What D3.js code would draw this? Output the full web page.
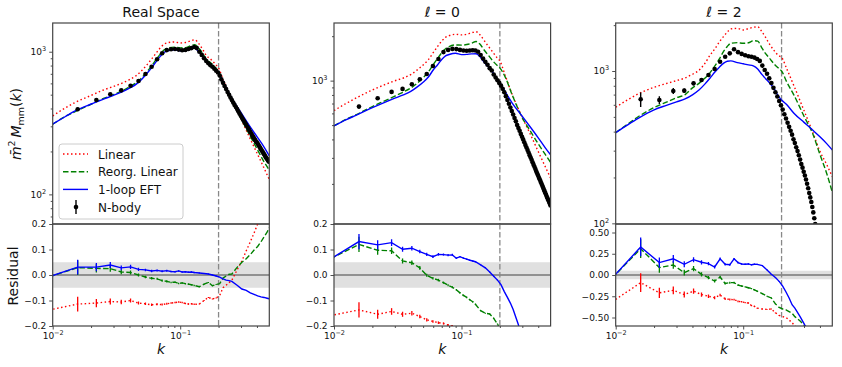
<!DOCTYPE html>
<html>
<head>
<meta charset="utf-8">
<script src="https://cdn.jsdelivr.net/npm/d3@7"></script>
<style>
  body { margin: 0; background: #fff; }
  svg { font-family: "DejaVu Sans", sans-serif; }
</style>
</head>
<body>
<svg id="chart" width="842" height="367"></svg>
<script>
// N-body k bins
var kBins = [0.0094, 0.0157, 0.0220, 0.0283, 0.0345, 0.0408, 0.0471, 0.0534, 0.0597, 0.0659,
  0.0722, 0.0785, 0.0848, 0.0911, 0.0973, 0.1036, 0.1099, 0.1162, 0.1225, 0.1287,
  0.1350, 0.1413, 0.1476, 0.1539, 0.1601, 0.1664, 0.1727, 0.1790, 0.1853, 0.1915,
  0.1978, 0.2041, 0.2104, 0.2167, 0.2229, 0.2292, 0.2355, 0.2418, 0.2481, 0.2543,
  0.2606, 0.2669, 0.2732, 0.2795, 0.2857, 0.2920, 0.2983, 0.3046, 0.3109, 0.3171,
  0.3234, 0.3297, 0.3360, 0.3423, 0.3485, 0.3548, 0.3611, 0.3674, 0.3737, 0.3799,
  0.3862, 0.3925, 0.3988, 0.4051, 0.4113, 0.4176, 0.4239, 0.4302, 0.4365, 0.4427,
  0.4490, 0.4553, 0.4616, 0.4679, 0.4741, 0.4804, 0.4867, 0.4930, 0.4993];

// k grid of the model curves
var modelK = [0.01, 0.0125, 0.015, 0.02, 0.025, 0.03, 0.035, 0.04, 0.045, 0.05,
  0.055, 0.06, 0.065, 0.07, 0.075, 0.08, 0.09, 0.1, 0.11, 0.12,
  0.13, 0.14, 0.15, 0.16, 0.175, 0.19, 0.2, 0.22, 0.25, 0.3,
  0.35, 0.4, 0.45, 0.5];

// k of the residual points
var resK = [0.0094, 0.0157, 0.0220, 0.0283, 0.0345, 0.0408, 0.0471, 0.0534, 0.0597, 0.0659,
  0.0722, 0.0785, 0.0848, 0.0911, 0.0973, 0.1036, 0.1099, 0.1162, 0.1225, 0.1287,
  0.1413, 0.1539, 0.1664, 0.1790, 0.1915, 0.2041, 0.2167, 0.2292, 0.2418, 0.2543,
  0.2795, 0.3046, 0.3297, 0.3548, 0.3799, 0.4051, 0.4302, 0.4553, 0.4804, 0.4993];

// ---- Real space ----
var realNbody = [305, 395, 459, 503, 536, 578, 623, 698, 785, 885,
  975, 1027, 1040, 1045, 1035, 1025, 1030, 1045, 1060, 1080,
  1060, 1000, 950, 900, 860, 830, 805, 785, 760, 735,
  715, 680, 640, 605, 575, 548, 522, 499, 477, 458,
  440, 424, 410, 396, 382, 369, 357, 346, 335, 325,
  316, 307, 298, 290, 282, 274, 267, 260, 253, 247,
  241, 236, 232, 227, 222, 217, 212, 207, 203, 199,
  195, 191, 187, 183, 180, 177, 174, 171, 169];
var realLinear = [355, 403, 441, 494, 539, 571, 602, 637, 678, 738, 812, 895, 983, 1067, 1132, 1157, 1170,
  1152, 1160, 1191, 1213, 1140, 1039, 943, 880, 813, 768, 618, 480, 338, 251, 195, 156, 127];
var realReorg = [310, 351, 380, 428, 470, 501, 532, 567, 604, 658, 725, 801, 886, 966, 1032, 1060, 1077,
  1065, 1069, 1097, 1122, 1059, 974, 887, 830, 769, 725, 596, 468, 340, 261, 209, 172, 148];
var realEft = [311, 350, 385, 430, 465, 495, 523, 555, 590, 642, 706, 777, 856, 931, 991, 1016, 1030,
  1015, 1020, 1045, 1065, 995, 930, 858, 797, 744, 707, 602, 482, 374, 302, 254, 218, 186];
var realResLinear = [-0.137, -0.114, -0.110, -0.104, -0.106, -0.100, -0.110, -0.113, -0.117, -0.115,
  -0.116, -0.113, -0.110, -0.108, -0.106, -0.108, -0.112, -0.114, -0.113, -0.115,
  -0.114, -0.100, -0.088, -0.094, -0.090, -0.080, -0.050, -0.040, -0.030, -0.020,
  0.020, 0.055, 0.095, 0.130, 0.165, 0.200, 0.230, 0.260, 0.290, 0.310];
var realResReorg = [-0.007, 0.029, 0.026, 0.025, 0.012, 0.010, 0.000, -0.008, -0.013, -0.015,
  -0.022, -0.025, -0.029, -0.028, -0.033, -0.031, -0.034, -0.036, -0.038, -0.041,
  -0.046, -0.036, -0.029, -0.042, -0.037, -0.034, -0.012, -0.004, 0.003, 0.004,
  0.030, 0.050, 0.064, 0.080, 0.098, 0.112, 0.130, 0.150, 0.168, 0.185];
var realResEft = [-0.007, 0.031, 0.031, 0.039, 0.028, 0.032, 0.022, 0.020, 0.016, 0.018,
  0.015, 0.017, 0.014, 0.013, 0.016, 0.012, 0.013, 0.011, 0.012, 0.010,
  0.008, 0.006, 0.004, 0.000, -0.004, -0.008, -0.015, -0.020, -0.022, -0.025,
  -0.040, -0.055, -0.060, -0.070, -0.076, -0.082, -0.086, -0.088, -0.091, -0.093];
var realErr = [0.035, 0.029, 0.016, 0.012, 0.009, 0.008, 0.006, 0.005, 0.005, 0.004,
  0.004, 0.004, 0.003, 0.003, 0.003, 0.003, 0.003, 0.003, 0.003, 0.003,
  0.002, 0.002, 0.002, 0.002, 0.002, 0.002, 0.002, 0.002, 0.002, 0.002,
  0.002, 0.002, 0.002, 0.002, 0.002, 0.002, 0.002, 0.002, 0.002, 0.002];

// ---- l = 0 ----
var monoNbody = [530, 667, 760, 839, 879, 945, 1022, 1110, 1257, 1400,
  1560, 1615, 1640, 1635, 1615, 1600, 1595, 1600, 1605, 1600,
  1570, 1490, 1410, 1340, 1280, 1215, 1170, 1100, 1050, 1005,
  965, 925, 880, 835, 785, 740, 698, 658, 622, 590,
  558, 530, 501, 478, 457, 436, 417, 400, 383, 367,
  353, 339, 326, 313, 302, 291, 280, 270, 261, 252,
  243, 235, 228, 220, 214, 207, 201, 195, 189, 183,
  178, 173, 168, 163, 159, 155, 151, 147, 143];
var monoLinear = [627, 702, 765, 865, 939, 998, 1042, 1100, 1182, 1277, 1387, 1546, 1704, 1852, 1964, 2015, 2060,
  2040, 2060, 2110, 2145, 2040, 1880, 1740, 1570, 1430, 1360, 1087, 806, 563, 426, 331, 266, 219];
var monoReorg = [494, 548, 589, 668, 730, 785, 837, 891, 961, 1047, 1146, 1282, 1413, 1546, 1646, 1700, 1745,
  1739, 1755, 1791, 1840, 1762, 1618, 1509, 1369, 1270, 1220, 1060, 800, 560, 450, 373, 320, 279];
var monoEft = [494, 545, 584, 656, 713, 761, 802, 845, 907, 976, 1058, 1180, 1282, 1390, 1470, 1503, 1533,
  1500, 1505, 1518, 1519, 1450, 1340, 1255, 1150, 1020, 970, 842, 705, 573, 480, 410, 355, 314];
var monoResLinear = [-0.159, -0.137, -0.154, -0.143, -0.154, -0.150, -0.163, -0.176, -0.182, -0.187,
  -0.190, -0.196, -0.200, -0.210, -0.215, -0.220, -0.225, -0.230, -0.235, -0.240,
  -0.250, -0.260, -0.270, -0.280, -0.300, -0.310, -0.300, -0.280, -0.260, -0.250,
  -0.250, -0.270, -0.290, -0.300, -0.310, -0.320, -0.330, -0.340, -0.350, -0.350];
var monoResReorg = [0.064, 0.120, 0.097, 0.095, 0.055, 0.048, 0.028, -0.001, -0.013, -0.020,
  -0.030, -0.040, -0.048, -0.058, -0.070, -0.080, -0.088, -0.097, -0.105, -0.115,
  -0.140, -0.150, -0.153, -0.170, -0.192, -0.220, -0.250, -0.280, -0.310, -0.330,
  -0.380, -0.420, -0.440, -0.460, -0.470, -0.480, -0.490, -0.490, -0.500, -0.500];
var monoResEft = [0.063, 0.131, 0.118, 0.127, 0.101, 0.105, 0.092, 0.081, 0.072, 0.081,
  0.080, 0.078, 0.079, 0.066, 0.072, 0.066, 0.062, 0.058, 0.055, 0.052,
  0.040, 0.028, 0.012, -0.005, -0.020, -0.038, -0.065, -0.088, -0.110, -0.135,
  -0.195, -0.270, -0.320, -0.370, -0.420, -0.460, -0.490, -0.510, -0.530, -0.550];
var monoErr = [0.035, 0.030, 0.018, 0.013, 0.010, 0.009, 0.007, 0.006, 0.005, 0.005,
  0.004, 0.004, 0.004, 0.003, 0.003, 0.003, 0.003, 0.003, 0.003, 0.003,
  0.002, 0.002, 0.002, 0.002, 0.002, 0.002, 0.002, 0.002, 0.002, 0.002,
  0.002, 0.002, 0.002, 0.002, 0.002, 0.002, 0.002, 0.002, 0.002, 0.002];

// ---- l = 2 ----
var quadNbody = [380, 652, 645, 739, 743, 830, 873, 941, 1031, 1151,
  1241, 1306, 1390, 1330, 1295, 1270, 1250, 1240, 1225, 1200,
  1165, 1085, 1015, 960, 895, 835, 775, 725, 680, 635,
  595, 558, 520, 488, 457, 430, 405, 382, 356, 337,
  316, 298, 280, 262, 245, 232, 218, 206, 194, 182,
  170, 158, 148, 138, 128, 118, 108, 99, 90];
var quadLinear = [578, 650, 707, 782, 828, 865, 900, 952, 1010, 1120, 1270, 1400, 1550, 1680, 1800, 1890, 1905,
  1860, 1900, 1935, 1950, 1812, 1660, 1510, 1360, 1260, 1230, 1030, 800, 550, 400, 297, 245, 202];
var quadReorg = [394, 450, 501, 575, 625, 668, 700, 775, 830, 895, 975, 1080, 1200, 1339, 1450, 1520, 1535,
  1520, 1532, 1580, 1570, 1420, 1300, 1220, 1110, 1040, 1000, 845, 695, 505, 390, 283, 215, 160];
var quadEft = [394, 445, 489, 556, 595, 627, 656, 698, 750, 820, 900, 985, 1060, 1123, 1160, 1165, 1135,
  1115, 1097, 1080, 1030, 950, 890, 840, 765, 678, 645, 600, 528, 460, 410, 370, 335, 303];
var quadResLinear = [-0.314, -0.090, -0.210, -0.180, -0.230, -0.190, -0.230, -0.250, -0.267, -0.236,
  -0.280, -0.287, -0.290, -0.310, -0.315, -0.325, -0.330, -0.360, -0.370, -0.390,
  -0.400, -0.405, -0.400, -0.445, -0.475, -0.490, -0.500, -0.530, -0.560, -0.600,
  -0.650, -0.700, -0.740, -0.780, -0.810, -0.840, -0.860, -0.880, -0.900, -0.910];
var quadResReorg = [-0.033, 0.310, 0.087, 0.118, 0.028, 0.075, 0.008, -0.031, -0.071, -0.024,
  -0.100, -0.090, -0.090, -0.118, -0.130, -0.140, -0.150, -0.160, -0.175, -0.190,
  -0.220, -0.250, -0.270, -0.340, -0.380, -0.400, -0.410, -0.430, -0.450, -0.490,
  -0.540, -0.600, -0.640, -0.700, -0.740, -0.780, -0.810, -0.840, -0.860, -0.880];
var quadResEft = [-0.036, 0.330, 0.146, 0.190, 0.126, 0.180, 0.150, 0.134, 0.094, 0.190,
  0.126, 0.120, 0.190, 0.146, 0.130, 0.126, 0.130, 0.120, 0.127, 0.125,
  0.110, 0.060, 0.008, -0.030, -0.075, -0.130, -0.200, -0.270, -0.350, -0.390,
  -0.490, -0.590, -0.660, -0.720, -0.780, -0.820, -0.860, -0.900, -0.920, -0.940];
var quadErr = [0.130, 0.110, 0.060, 0.045, 0.035, 0.030, 0.025, 0.020, 0.017, 0.015,
  0.013, 0.012, 0.011, 0.010, 0.009, 0.008, 0.008, 0.007, 0.007, 0.006,
  0.005, 0.005, 0.005, 0.005, 0.005, 0.005, 0.005, 0.005, 0.005, 0.005,
  0.005, 0.005, 0.005, 0.005, 0.005, 0.005, 0.005, 0.005, 0.005, 0.005];

var kCut = 0.2;
var legendNames = ["Linear", "Reorg. Linear", "1-loop EFT", "N-body"];

// layout
var panelW = 216.6;
var topY = 23, midY = 224, botY = 326;

var panels = [
  {title: "Real Space", left: 52.7, yDomain: [62, 1590],
   nbody: realNbody, linear: realLinear, reorg: realReorg, eft: realEft,
   res: [realResLinear, realResReorg, realResEft], err: realErr,
   resDomain: [-0.2, 0.2], resTicks: [-0.2, -0.1, 0, 0.1, 0.2], resFmt: ".1f"},
  {title: "\u2113 = 0", left: 334, yDomain: [107, 2456],
   nbody: monoNbody, linear: monoLinear, reorg: monoReorg, eft: monoEft,
   res: [monoResLinear, monoResReorg, monoResEft], err: monoErr,
   resDomain: [-0.2, 0.2], resTicks: [-0.2, -0.1, 0, 0.1, 0.2], resFmt: ".1f"},
  {title: "\u2113 = 2", left: 615.7, yDomain: [99, 2066],
   nbody: quadNbody, linear: quadLinear, reorg: quadReorg, eft: quadEft,
   res: [quadResLinear, quadResReorg, quadResEft], err: quadErr,
   resDomain: [-0.6, 0.6], resTicks: [-0.5, -0.25, 0, 0.25, 0.5], resFmt: ".2f"}
];

var styles = [
  {color: "red", dash: "1.5,2.5"},
  {color: "green", dash: "5.5,2.4"},
  {color: "blue", dash: null}
];

var svg = d3.select("#chart");

// 10^n tick labels with superscript
function powLabels(g) {
  g.selectAll(".tick text").each(function(d) {
    var e = Math.round(Math.log10(d));
    var t = d3.select(this).text(null);
    t.append("tspan").text("10");
    t.append("tspan").attr("dy", -4).attr("font-size", 6.5).text(e < 0 ? "\u2212" + (-e) : e);
  });
}

function styleAxis(g) {
  g.attr("font-size", 9).attr("font-family", null);
  g.select(".domain").remove();
  g.selectAll(".tick line").attr("stroke", "#222").attr("stroke-width", 0.8);
  g.selectAll(".tick text").attr("fill", "#111");
}

var majorDecades = [10, 100, 1000, 10000];
var minorVals = [];
[10, 100, 1000].forEach(function(b) {
  for (var m = 2; m <= 9; m++) minorVals.push(b * m);
});

panels.forEach(function(p, i) {
  var g = svg.append("g").attr("transform", `translate(${p.left},0)`);

  var x = d3.scaleLog().domain([0.01, 0.5]).range([0, panelW]);
  var y = d3.scaleLog().domain(p.yDomain).range([midY, topY]);
  var yr = d3.scaleLinear().domain(p.resDomain).range([botY, midY]);

  // clip paths
  var defs = svg.append("defs");
  defs.append("clipPath").attr("id", "ct" + i).append("rect")
    .attr("x", 0).attr("y", topY).attr("width", panelW).attr("height", midY - topY);
  defs.append("clipPath").attr("id", "cr" + i).append("rect")
    .attr("x", 0).attr("y", midY).attr("width", panelW).attr("height", botY - midY);

  // ---------- top panel ----------
  var top = g.append("g").attr("clip-path", `url(#ct${i})`);

  top.append("line")
    .attr("x1", x(kCut)).attr("x2", x(kCut))
    .attr("y1", topY).attr("y2", midY)
    .attr("stroke", "#888").attr("stroke-width", 1.3).attr("stroke-dasharray", "5.5,2.5");

  var line = d3.line()
    .x(d => x(d[0]))
    .y(d => y(d[1]))
    .curve(d3.curveMonotoneX);

  [p.linear, p.reorg, p.eft].forEach(function(vals, j) {
    top.append("path")
      .datum(modelK.map((k, n) => [k, vals[n]]))
      .attr("d", line)
      .attr("fill", "none")
      .attr("stroke", styles[j].color)
      .attr("stroke-width", 1.4)
      .attr("stroke-dasharray", styles[j].dash);
  });

  var pts = p.nbody.map((v, n) => ({k: kBins[n], v: v, e: n < 20 ? p.err[n] : 0}))
    .filter(d => d.k >= 0.01);

  top.selectAll(".ebar")
    .data(pts.filter(d => d.e > 0))
    .enter().append("line")
    .attr("x1", d => x(d.k)).attr("x2", d => x(d.k))
    .attr("y1", d => y(d.v * (1 - d.e))).attr("y2", d => y(d.v * (1 + d.e)))
    .attr("stroke", "black").attr("stroke-width", 1.4);

  top.selectAll(".dot")
    .data(pts)
    .enter().append("circle")
    .attr("cx", d => x(d.k))
    .attr("cy", d => y(d.v))
    .attr("r", 2.3)
    .attr("fill", "black");

  // y axis (log)
  var lo = p.yDomain[0], hi = p.yDomain[1];
  var yAxis = g.append("g")
    .call(d3.axisLeft(y).tickValues(majorDecades.filter(v => v >= lo && v <= hi)).tickSize(3.5).tickPadding(3));
  styleAxis(yAxis);
  powLabels(yAxis);
  var yMinor = g.append("g")
    .call(d3.axisLeft(y).tickValues(minorVals.filter(v => v >= lo && v <= hi)).tickSize(2).tickFormat(""));
  styleAxis(yMinor);

  g.append("rect")
    .attr("x", 0).attr("y", topY).attr("width", panelW).attr("height", midY - topY)
    .attr("fill", "none").attr("stroke", "#444").attr("stroke-width", 1.2);

  g.append("text")
    .attr("x", panelW / 2).attr("y", 16.5)
    .attr("text-anchor", "middle")
    .attr("font-size", 14)
    .attr("fill", "#111")
    .text(p.title);

  // ---------- residual panel ----------
  var res = g.append("g").attr("clip-path", `url(#cr${i})`);

  res.append("rect")
    .attr("x", 0).attr("width", panelW)
    .attr("y", yr(0.05)).attr("height", yr(-0.05) - yr(0.05))
    .attr("fill", "#e0e0e0");

  res.append("line")
    .attr("x1", 0).attr("x2", panelW)
    .attr("y1", yr(0)).attr("y2", yr(0))
    .attr("stroke", "#777").attr("stroke-width", 1.4);

  res.append("line")
    .attr("x1", x(kCut)).attr("x2", x(kCut))
    .attr("y1", midY).attr("y2", botY)
    .attr("stroke", "#888").attr("stroke-width", 1.3).attr("stroke-dasharray", "5.5,2.5");

  var rline = d3.line().x(d => x(d.k)).y(d => yr(d.r));

  p.res.forEach(function(vals, j) {
    var rd = vals.map((r, n) => ({k: resK[n], r: r, e: p.err[n]}));
    res.append("path")
      .datum(rd)
      .attr("d", rline)
      .attr("fill", "none")
      .attr("stroke", styles[j].color)
      .attr("stroke-width", 1.4)
      .attr("stroke-dasharray", styles[j].dash);
    res.selectAll(".rb" + j)
      .data(rd.filter(d => d.k >= 0.01 && d.k < 0.2))
      .enter().append("line")
      .attr("x1", d => x(d.k)).attr("x2", d => x(d.k))
      .attr("y1", d => yr(d.r - d.e)).attr("y2", d => yr(d.r + d.e))
      .attr("stroke", styles[j].color).attr("stroke-width", 1.3);
  });

  var rAxis = g.append("g")
    .call(d3.axisLeft(yr).tickValues(p.resTicks).tickSize(3.5).tickPadding(3).tickFormat(d3.format(p.resFmt)));
  styleAxis(rAxis);

  var xAxis = g.append("g")
    .attr("transform", `translate(0,${botY})`)
    .call(d3.axisBottom(x).tickValues([0.01, 0.1]).tickSize(3.5).tickPadding(3));
  styleAxis(xAxis);
  powLabels(xAxis);
  var xMinor = g.append("g")
    .attr("transform", `translate(0,${botY})`)
    .call(d3.axisBottom(x).tickValues([0.02, 0.03, 0.04, 0.05, 0.06, 0.07, 0.08, 0.09, 0.2, 0.3, 0.4]).tickSize(2).tickFormat(""));
  styleAxis(xMinor);

  g.append("rect")
    .attr("x", 0).attr("y", midY).attr("width", panelW).attr("height", botY - midY)
    .attr("fill", "none").attr("stroke", "#444").attr("stroke-width", 1.2);

  g.append("text")
    .attr("x", panelW / 2).attr("y", 354)
    .attr("text-anchor", "middle")
    .attr("font-size", 14)
    .attr("font-style", "italic")
    .attr("fill", "#111")
    .text("k");

  // legend (first panel only)
  if (i === 0) {
    var lg = g.append("g").attr("transform", `translate(${59 - p.left},144)`);
    lg.append("rect")
      .attr("width", 124).attr("height", 75).attr("rx", 3)
      .attr("fill", "white").attr("fill-opacity", 0.85)
      .attr("stroke", "#ccc").attr("stroke-width", 1);
    legendNames.forEach(function(name, j) {
      var cy = 10 + j * 17.7;
      if (j < 3) {
        lg.append("line")
          .attr("x1", 4).attr("x2", 29).attr("y1", cy).attr("y2", cy)
          .attr("stroke", styles[j].color).attr("stroke-width", 1.4)
          .attr("stroke-dasharray", styles[j].dash);
      } else {
        lg.append("line")
          .attr("x1", 17).attr("x2", 17).attr("y1", cy - 7).attr("y2", cy + 7)
          .attr("stroke", "black").attr("stroke-width", 1.4);
        lg.append("circle").attr("cx", 17).attr("cy", cy).attr("r", 2.3).attr("fill", "black");
      }
      lg.append("text")
        .attr("x", 39).attr("y", cy + 4.5)
        .attr("font-size", 12).attr("fill", "#111")
        .text(name);
    });
  }
});

// y labels
var yl = svg.append("text")
  .attr("transform", "translate(21,124) rotate(-90)")
  .attr("text-anchor", "middle")
  .attr("font-size", 14)
  .attr("fill", "#111");
yl.append("tspan").attr("font-style", "italic").text("m\u0304");
yl.append("tspan").attr("font-size", 9.5).attr("dy", -6).text("2");
yl.append("tspan").attr("dy", 6).attr("font-style", "italic").text("\u2009M");
yl.append("tspan").attr("font-size", 9.5).attr("dy", 3).text("mm");
yl.append("tspan").attr("dy", -3).text("(");
yl.append("tspan").attr("font-style", "italic").text("k");
yl.append("tspan").text(")");

svg.append("text")
  .attr("transform", "translate(18,276) rotate(-90)")
  .attr("text-anchor", "middle")
  .attr("font-size", 14)
  .attr("fill", "#111")
  .text("Residual");
</script>
</body>
</html>
